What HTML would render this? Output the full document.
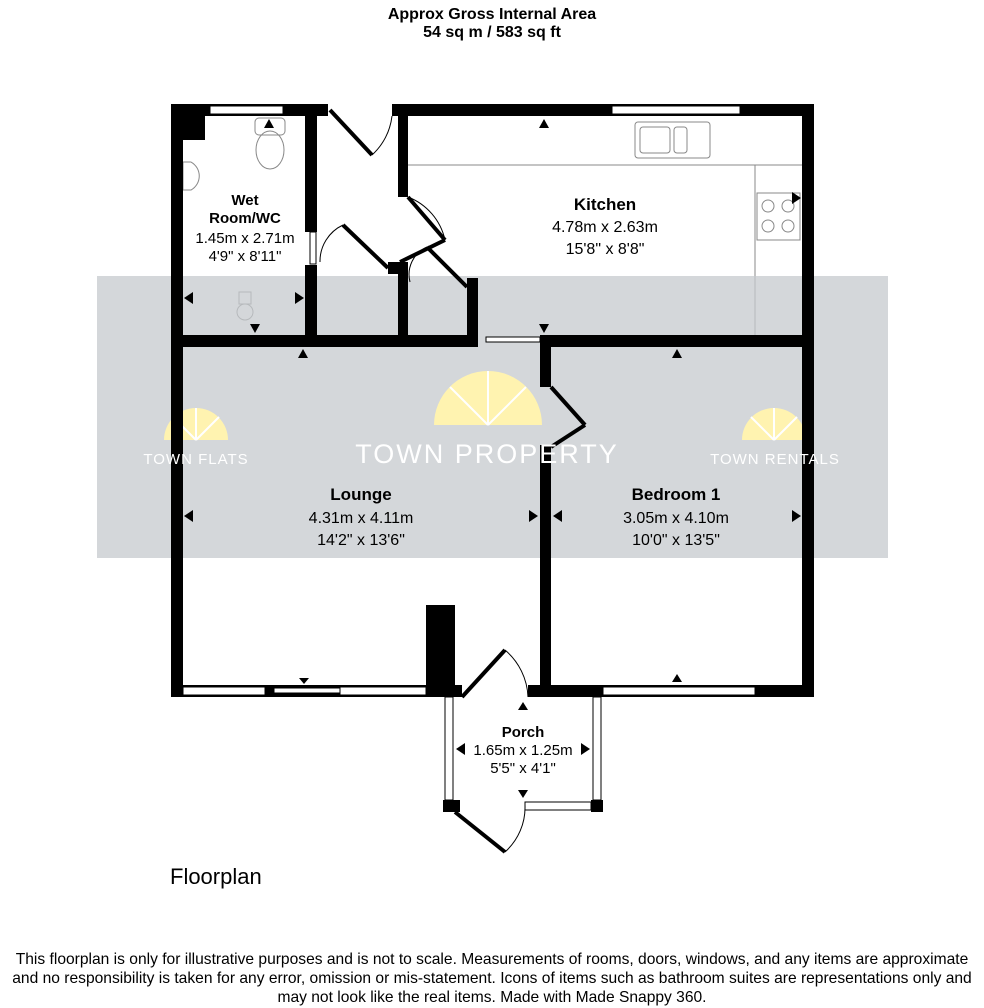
<!DOCTYPE html>
<html><head><meta charset="utf-8"><style>
html,body{margin:0;padding:0;background:#fff;}
svg{display:block;font-family:"Liberation Sans",Arial,sans-serif;}
</style></head><body>
<svg width="984" height="1008" viewBox="0 0 984 1008" xmlns="http://www.w3.org/2000/svg">
<rect width="984" height="1008" fill="#fff"/>
<text x="492" y="19" font-size="16" font-weight="bold" text-anchor="middle">Approx Gross Internal Area</text>
<text x="492" y="37" font-size="16" font-weight="bold" text-anchor="middle">54 sq m / 583 sq ft</text>

<g fill="none" stroke="#888" stroke-width="1">
<line x1="408" y1="165" x2="802" y2="165"/>
<line x1="755" y1="165" x2="755" y2="335"/>
<rect x="635" y="122" width="75" height="36" rx="3"/>
<rect x="640" y="127" width="30" height="26" rx="3"/>
<rect x="674" y="127" width="13" height="26" rx="3"/>
<rect x="757" y="193" width="43" height="47"/>
<circle cx="768" cy="206" r="6"/><circle cx="788" cy="206" r="6"/>
<circle cx="768" cy="226" r="6"/><circle cx="788" cy="226" r="6"/>
<rect x="255" y="118" width="30" height="17" rx="4"/>
<ellipse cx="270" cy="150" rx="14" ry="19"/>
<path d="M183 162 h8 a16 16 0 0 1 0 28 h-8 z"/>
<circle cx="245" cy="312" r="8"/>
<rect x="239" y="292" width="12" height="12"/>
</g>

<rect x="97" y="276" width="791" height="282" fill="#c5c9ce" opacity="0.75"/>
<g fill="#fff3b0">
<path d="M434 425 a54 54 0 0 1 108 0 z"/>
<path d="M164 440 a32 32 0 0 1 64 0 z"/>
<path d="M742 440 a32 32 0 0 1 64 0 z"/>
</g>
<g stroke="#fff" stroke-width="2" fill="none">
<line x1="488" y1="425" x2="488" y2="371"/><line x1="488" y1="425" x2="450" y2="387"/><line x1="488" y1="425" x2="526" y2="387"/>
<line x1="196" y1="440" x2="196" y2="408"/><line x1="196" y1="440" x2="173" y2="417"/><line x1="196" y1="440" x2="219" y2="417"/>
<line x1="774" y1="440" x2="774" y2="408"/><line x1="774" y1="440" x2="751" y2="417"/><line x1="774" y1="440" x2="797" y2="417"/>
</g>

<g fill="#000">
<rect x="171" y="104" width="12" height="593"/>
<rect x="171" y="104" width="157" height="12"/>
<rect x="171" y="104" width="34" height="36"/>
<rect x="392" y="104" width="422" height="12"/>
<rect x="802" y="104" width="12" height="593"/>
<rect x="171" y="685" width="291" height="12"/>
<rect x="426" y="605" width="29" height="92"/>
<rect x="528" y="685" width="286" height="12"/>
<rect x="305" y="116" width="12" height="116"/>
<rect x="305" y="265" width="12" height="80"/>
<rect x="171" y="335" width="307" height="12"/>
<rect x="398" y="116" width="10" height="81"/>
<rect x="398" y="262" width="10" height="83"/>
<rect x="388" y="262" width="20" height="12"/>
<rect x="467" y="278" width="11" height="67"/>
<rect x="540" y="335" width="274" height="12"/>
<rect x="540" y="335" width="11" height="52"/>
<rect x="540" y="445" width="11" height="252"/>
<rect x="443" y="800" width="17" height="12"/>
<rect x="591" y="800" width="12" height="12"/>
</g>
<g fill="#fff" stroke="#000" stroke-width="1">
<rect x="210" y="106" width="73" height="8"/>
<rect x="612" y="106" width="128" height="8"/>
<rect x="183" y="687" width="82" height="8"/>
<rect x="340" y="687" width="86" height="8"/>
<rect x="274" y="688" width="66" height="5"/>
<rect x="603" y="687" width="152" height="8"/>
<rect x="445" y="697" width="8" height="103"/>
<rect x="593" y="697" width="8" height="103"/>
<rect x="525" y="802" width="66" height="8"/>
<rect x="486" y="337" width="54" height="5"/>
<rect x="310" y="232" width="6" height="32"/>
</g>
<g stroke="#000" fill="none">
<g stroke-width="4">
<line x1="330" y1="110" x2="372" y2="155"/>
<line x1="408" y1="197" x2="445" y2="240"/>
<line x1="445" y1="240" x2="400" y2="262"/>
<line x1="343" y1="225" x2="388" y2="268"/>
<line x1="427" y1="247" x2="467" y2="287"/>
<line x1="462" y1="697" x2="505" y2="650"/>
<line x1="455" y1="812" x2="505" y2="852"/>
<line x1="551" y1="387" x2="585" y2="425"/>
<line x1="585" y1="425" x2="551" y2="447"/>
</g>
<g stroke-width="1">
<path d="M372 155 A62 62 0 0 0 392 116"/>
<path d="M408 197 A60 60 0 0 1 445 240"/>
<path d="M343 225 A40 40 0 0 0 320 262"/>
<path d="M427 247 A30 30 0 0 0 410 282"/>
<path d="M505 650 A65 65 0 0 1 528 697"/>
<path d="M505 852 A60 60 0 0 0 525 805"/>
</g>
</g>

<text x="487" y="463" font-size="27" fill="#fff" text-anchor="middle" letter-spacing="2">TOWN PROPERTY</text>
<text x="196" y="464" font-size="15" fill="#fff" text-anchor="middle" letter-spacing="1">TOWN FLATS</text>
<text x="775" y="464" font-size="15" fill="#fff" text-anchor="middle" letter-spacing="1">TOWN RENTALS</text>

<g fill="#000">
<path d="M539 128 l5 -9 l5 9z"/>
<path d="M792 192 l9 6 l-9 6z"/>
<path d="M539 324 l5 9 l5 -9z"/>
<path d="M264 128 l5 -9 l5 9z"/>
<path d="M193 292 l-9 6 l9 6z"/>
<path d="M295 292 l9 6 l-9 6z"/>
<path d="M250 324 l5 9 l5 -9z"/>
<path d="M298 358 l5 -9 l5 9z"/>
<path d="M672 358 l5 -9 l5 9z"/>
<path d="M193 510 l-9 6 l9 6z"/>
<path d="M529 510 l9 6 l-9 6z"/>
<path d="M562 510 l-9 6 l9 6z"/>
<path d="M792 510 l9 6 l-9 6z"/>
<path d="M299 678 l5 6 l5 -6z"/>
<path d="M672 682 l5 -8 l5 8z"/>
<path d="M518 710 l5 -8 l5 8z"/>
<path d="M518 790 l5 8 l5 -8z"/>
<path d="M465 743 l-9 6 l9 6z"/>
<path d="M581 743 l9 6 l-9 6z"/>
</g>
<g text-anchor="middle" font-size="15">
<text x="245" y="205" font-weight="bold">Wet</text>
<text x="245" y="223" font-weight="bold">Room/WC</text>
<text x="245" y="243">1.45m x 2.71m</text>
<text x="245" y="261">4'9" x 8'11"</text>
<text x="605" y="210" font-size="17" font-weight="bold">Kitchen</text>
<text x="605" y="232" font-size="16">4.78m x 2.63m</text>
<text x="605" y="254" font-size="16">15'8" x 8'8"</text>
<text x="361" y="500" font-size="17" font-weight="bold">Lounge</text>
<text x="361" y="523" font-size="16">4.31m x 4.11m</text>
<text x="361" y="545" font-size="16">14'2" x 13'6"</text>
<text x="676" y="500" font-size="17" font-weight="bold">Bedroom 1</text>
<text x="676" y="523" font-size="16">3.05m x 4.10m</text>
<text x="676" y="545" font-size="16">10'0" x 13'5"</text>
<text x="523" y="737" font-weight="bold">Porch</text>
<text x="523" y="755">1.65m x 1.25m</text>
<text x="523" y="773">5'5" x 4'1"</text>
</g>
<text x="170" y="884" font-size="22">Floorplan</text>
<g text-anchor="middle" font-size="15.6">
<text x="492" y="964">This floorplan is only for illustrative purposes and is not to scale. Measurements of rooms, doors, windows, and any items are approximate</text>
<text x="492" y="983">and no responsibility is taken for any error, omission or mis-statement. Icons of items such as bathroom suites are representations only and</text>
<text x="492" y="1002">may not look like the real items. Made with Made Snappy 360.</text>
</g>
</svg>
</body></html>
